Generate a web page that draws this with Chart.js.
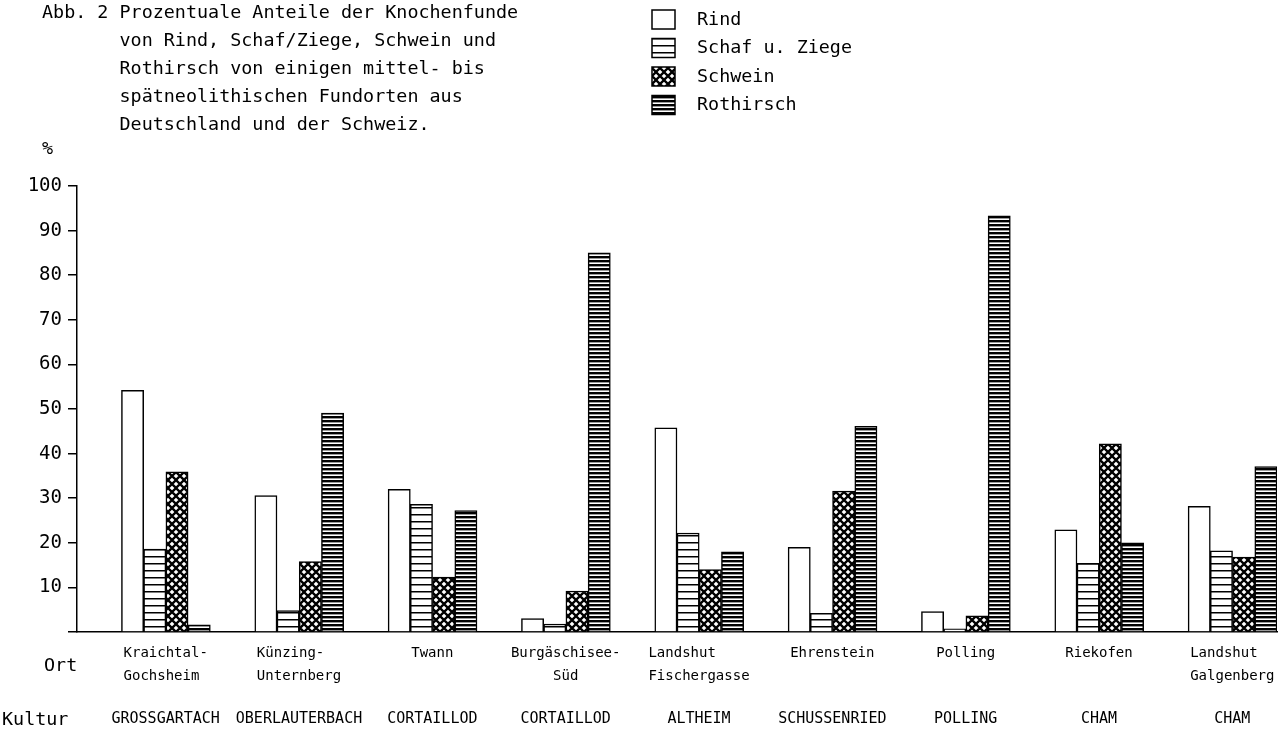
<!DOCTYPE html>
<html>
<head>
<meta charset="utf-8">
<script src="https://cdn.jsdelivr.net/npm/chart.js@4"></script>
<style>
  body { margin: 0; background: #fff; overflow: hidden; }
  #wrap { position: relative; width: 1279px; height: 729px; }
  .txt { position: absolute; font-family: "DejaVu Sans Mono", monospace; font-size: 18.4px; line-height: 28px; color: #000; margin: 0; white-space: pre; }
</style>
</head>
<body>
<div id="wrap">
  <canvas id="chart" width="1279" height="729"></canvas>
  <pre class="txt" style="left:42px;top:-2px">Abb. 2 Prozentuale Anteile der Knochenfunde
       von Rind, Schaf/Ziege, Schwein und
       Rothirsch von einigen mittel- bis
       spätneolithischen Fundorten aus
       Deutschland und der Schweiz.</pre>
  <div class="txt" style="left:42px;top:134px">%</div>
  <div class="txt" style="left:44px;top:651px">Ort</div>
  <div class="txt" style="left:2px;top:705px">Kultur</div>
</div>
<script>
// Fundorte (zweizeilig, links bündig durch Leerzeichen)
const orte = [
    ['Kraichtal-', 'Gochsheim '],
    ['Künzing-  ', 'Unternberg'],
    ['Twann'],
    ['Burgäschisee-', 'Süd'],
    ['Landshut    ', 'Fischergasse'],
    ['Ehrenstein'],
    ['Polling'],
    ['Riekofen'],
    ['Landshut  ', 'Galgenberg']
];
const kulturen = ['GROSSGARTACH', 'OBERLAUTERBACH', 'CORTAILLOD', 'CORTAILLOD', 'ALTHEIM', 'SCHUSSENRIED', 'POLLING', 'CHAM', 'CHAM'];

const rind      = [54.2, 30.6, 32.0, 3.0, 45.8, 19.0, 4.6, 22.9, 28.2];
const schaf     = [18.6, 4.8, 28.6, 1.8, 22.2, 4.2, 0.7, 15.4, 18.2];
const schwein   = [35.9, 15.8, 12.3, 9.2, 14.0, 31.6, 3.6, 42.2, 16.8];
const rothirsch = [1.6, 49.1, 27.2, 85.0, 18.0, 46.1, 93.3, 20.0, 37.1];

const mono = '"DejaVu Sans Mono", monospace';

function makePattern(kind) {
    const c = document.createElement('canvas');
    const g = c.getContext('2d');
    if (kind === 'empty') {
        c.width = 4; c.height = 4;
        g.fillStyle = '#fff';
        g.fillRect(0, 0, 4, 4);
    } else if (kind === 'lines') {
        c.width = 8; c.height = 7;
        g.fillStyle = '#fff';
        g.fillRect(0, 0, 8, 7);
        g.fillStyle = '#000';
        g.fillRect(0, 3, 8, 1.5);
    } else if (kind === 'dense') {
        c.width = 8; c.height = 4;
        g.fillStyle = '#fff';
        g.fillRect(0, 0, 8, 4);
        g.fillStyle = '#000';
        g.fillRect(0, 0, 8, 2.4);
    } else if (kind === 'cross') {
        c.width = 8; c.height = 8;
        g.fillStyle = '#fff';
        g.fillRect(0, 0, 8, 8);
        g.strokeStyle = '#000';
        g.lineWidth = 2.3;
        g.beginPath();
        g.moveTo(-1, -1); g.lineTo(9, 9);
        g.moveTo(9, -1); g.lineTo(-1, 9);
        g.stroke();
    }
    return g.createPattern(c, 'repeat');
}

function barSet(label, data, kind) {
    return {
        label: label,
        data: data,
        backgroundColor: makePattern(kind),
        borderColor: '#000',
        borderWidth: 1.5,
        xAxisID: 'x'
    };
}

// zwei leere Platzhalter, damit die Gruppen rechts im Kategoriefeld stehen
const spacer = { label: '', data: [], backgroundColor: 'rgba(0,0,0,0)', borderWidth: 0, xAxisID: 'x' };

const legendPlugin = {
    id: 'sideLegend',
    afterDraw(chart) {
        const ctx = chart.ctx;
        const rows = chart.data.datasets.filter(d => d.label);
        ctx.save();
        rows.forEach((d, i) => {
            const cy = 20 + i * 28.5;
            ctx.fillStyle = d.backgroundColor;
            ctx.fillRect(652, cy - 10, 23, 19);
            ctx.strokeStyle = '#000';
            ctx.lineWidth = 1.5;
            ctx.strokeRect(652, cy - 10, 23, 19);
            ctx.fillStyle = '#000';
            ctx.font = '18.4px ' + mono;
            ctx.textBaseline = 'middle';
            ctx.fillText(d.label, 697, cy);
        });
        ctx.restore();
    }
};

new Chart(document.getElementById('chart'), {
    type: 'bar',
    data: {
        labels: orte,
        datasets: [
            spacer,
            Object.assign({}, spacer),
            barSet('Rind', rind, 'empty'),
            barSet('Schaf u. Ziege', schaf, 'lines'),
            barSet('Schwein', schwein, 'cross'),
            barSet('Rothirsch', rothirsch, 'dense')
        ]
    },
    options: {
        responsive: false,
        animation: false,
        layout: { padding: { top: 186, left: 0, right: 2, bottom: 0 } },
        datasets: { bar: { categoryPercentage: 1, barPercentage: 1 } },
        plugins: {
            legend: { display: false },
            tooltip: { enabled: false }
        },
        scales: {
            x: {
                type: 'category',
                offset: true,
                grid: { display: false, drawTicks: false },
                border: { display: true, color: '#000', width: 1.5 },
                ticks: {
                    color: '#000',
                    font: { family: mono, size: 14, lineHeight: 1.7 },
                    labelOffset: 22,
                    padding: 9,
                    maxRotation: 0,
                    autoSkip: false
                },
                afterFit: s => { s.height = 60; }
            },
            x2: {
                type: 'category',
                position: 'bottom',
                labels: kulturen,
                offset: true,
                grid: { display: false, drawTicks: false },
                border: { display: false },
                ticks: {
                    color: '#000',
                    font: { family: mono, size: 15 },
                    labelOffset: 22,
                    padding: 18,
                    maxRotation: 0,
                    autoSkip: false
                },
                afterFit: s => { s.height = 37; }
            },
            y: {
                min: 0,
                max: 100,
                ticks: {
                    stepSize: 10,
                    color: '#000',
                    font: { family: mono, size: 19 },
                    padding: 6,
                    callback: v => v === 0 ? '' : v
                },
                grid: { drawOnChartArea: false, drawTicks: true, tickLength: 9, color: '#000', lineWidth: 1.5 },
                border: { display: true, color: '#000', width: 1.5 },
                afterFit: s => { s.width = 77; }
            }
        }
    },
    plugins: [legendPlugin]
});
</script>
</body>
</html>
